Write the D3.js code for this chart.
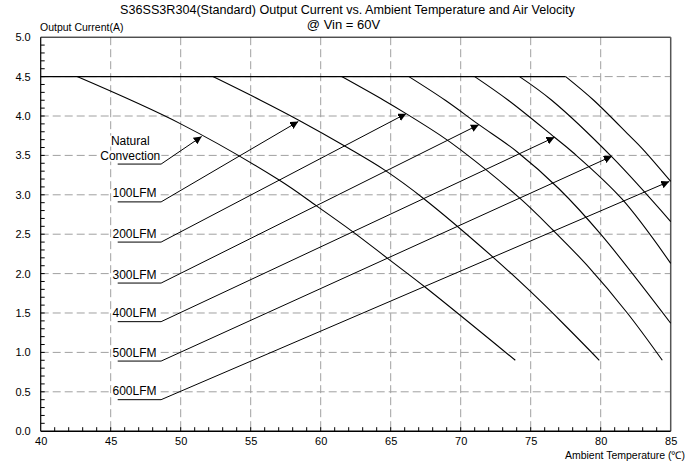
<!DOCTYPE html>
<html>
<head>
<meta charset="utf-8">
<script src="https://cdn.jsdelivr.net/npm/d3@7"></script>
<style>
  body { margin: 0; background: #fff; }
  text { font-family: "Liberation Sans", Arial, sans-serif; fill: #000; }
</style>
</head>
<body>
<svg id="chart" width="689" height="466"></svg>
<script>
// axis ticks
const tempTicks = [40, 45, 50, 55, 60, 65, 70, 75, 80, 85];
const currentTicks = [0, 0.5, 1, 1.5, 2, 2.5, 3, 3.5, 4, 4.5, 5];

// derating curves (first point is where the curve leaves 4.5A)
const seriesNames = ["Natural Convection", "100LFM", "200LFM", "300LFM", "400LFM", "500LFM", "600LFM"];
const ncTemp = [42.6, 50, 57, 59.7, 62.3, 64.8, 67.45, 73.9];
const ncCurrent = [4.5, 3.9, 3.19, 2.86, 2.53, 2.19, 1.83, 0.9];
const lfm100Temp = [52.3, 55.7, 58.5, 61.9, 64.6, 67.3, 72.3, 75, 77.3, 79.9];
const lfm100Current = [4.5, 4.2, 3.94, 3.6, 3.31, 2.96, 2.21, 1.77, 1.37, 0.9];
const lfm200Temp = [61.5, 64.5, 66.1, 68.5, 70, 74.2, 76.6, 79, 81.9, 84.4];
const lfm200Current = [4.5, 4.2, 4.03, 3.76, 3.57, 2.96, 2.55, 2.11, 1.5, 0.9];
const lfm300Temp = [66.3, 68.9, 71.3, 74, 77, 80, 85];
const lfm300Current = [4.5, 4.2, 3.89, 3.55, 3.08, 2.5, 1.37];
const lfm400Temp = [71, 73.4, 76.7, 78, 81.5, 85];
const lfm400Current = [4.5, 4.2, 3.73, 3.54, 2.95, 2.13];
const lfm500Temp = [74.2, 76.5, 80.8, 85];
const lfm500Current = [4.5, 4.2, 3.48, 2.66];
const lfm600Temp = [77.5, 79.5, 82, 83, 85];
const lfm600Current = [4.5, 4.2, 3.76, 3.58, 3.17];

// labels: underline level and where each arrow points on its curve
const labelStart = 45.5, labelEnd = 48.6;
const labelLevels = [3.39, 2.91, 2.40, 1.88, 1.39, 0.89, 0.40];
const arrowTemps = [51.5, 58.4, 66.1, 71.3, 76.7, 80.8, 84.9];
const arrowCurrents = [3.74, 3.93, 4.03, 3.89, 3.73, 3.49, 3.17];

const temps = [ncTemp, lfm100Temp, lfm200Temp, lfm300Temp, lfm400Temp, lfm500Temp, lfm600Temp];
const currents = [ncCurrent, lfm100Current, lfm200Current, lfm300Current, lfm400Current, lfm500Current, lfm600Current];
const series = seriesNames.map((name, i) => ({
  name: name,
  points: temps[i].map((t, j) => [t, currents[i][j]])
}));

const margin = {top: 37.2, left: 40.7};
const width = 630, height = 394;

const svg = d3.select("#chart");

svg.append("defs").append("marker")
  .attr("id", "arrow")
  .attr("viewBox", "0 0 10 10")
  .attr("refX", 10).attr("refY", 5)
  .attr("markerWidth", 8).attr("markerHeight", 8)
  .attr("markerUnits", "userSpaceOnUse")
  .attr("orient", "auto")
  .append("path")
  .attr("d", "M0,0L10,5L0,10z")
  .attr("fill", "#000");

const g = svg.append("g").attr("transform", `translate(${margin.left},${margin.top})`);

const x = d3.scaleLinear().domain([40, 85]).range([0, width]);
const y = d3.scaleLinear().domain([0, 5]).range([height, 0]);

// titles
svg.append("text")
  .attr("x", 347.5).attr("y", 14)
  .attr("text-anchor", "middle")
  .style("font-size", "12.6px")
  .text("S36SS3R304(Standard) Output Current vs. Ambient Temperature and Air Velocity");
svg.append("text")
  .attr("x", 343.5).attr("y", 29)
  .attr("text-anchor", "middle")
  .style("font-size", "13px")
  .text("@ Vin = 60V");
svg.append("text")
  .attr("x", 40).attr("y", 31)
  .style("font-size", "10.5px")
  .text("Output Current(A)");

// grid
const gridColor = "#a0a0a0";
g.append("g").selectAll("line")
  .data(currentTicks.filter(d => d > 0 && d < 5))
  .join("line")
  .attr("x1", 0).attr("x2", width)
  .attr("y1", d => y(d)).attr("y2", d => y(d))
  .attr("stroke", gridColor)
  .attr("stroke-dasharray", "8,4");
g.append("g").selectAll("line")
  .data(tempTicks.filter(d => d > 40 && d < 85))
  .join("line")
  .attr("x1", d => x(d)).attr("x2", d => x(d))
  .attr("y1", 0).attr("y2", height)
  .attr("stroke", gridColor)
  .attr("stroke-dasharray", "8,4");

// axes
const xAxis = d3.axisBottom(x).tickValues(tempTicks).tickSize(0).tickPadding(6).tickFormat(d3.format("d"));
const yAxis = d3.axisLeft(y).tickValues(currentTicks).tickSize(0).tickPadding(10).tickFormat(d3.format(".1f"));

const gx = g.append("g").attr("transform", `translate(0,${height})`).call(xAxis);
const gy = g.append("g").call(yAxis);
[gx, gy].forEach(a => {
  a.select(".domain").remove();
  a.selectAll("text").style("font-size", "11px").attr("fill", "#000");
});

// minor ticks, inward
g.append("g").selectAll("line")
  .data(d3.range(41, 85))
  .join("line")
  .attr("x1", d => x(d)).attr("x2", d => x(d))
  .attr("y1", height).attr("y2", height - 4)
  .attr("stroke", "#000");
g.append("g").selectAll("line")
  .data(d3.range(1, 50).map(d => d / 10))
  .join("line")
  .attr("x1", 0).attr("x2", 4)
  .attr("y1", d => y(d)).attr("y2", d => y(d))
  .attr("stroke", "#000");

// frame
g.append("line").attr("x1", 0).attr("x2", width).attr("y1", 0).attr("y2", 0).attr("stroke", "#000");
g.append("line").attr("x1", width).attr("x2", width).attr("y1", 0).attr("y2", height).attr("stroke", "#555").attr("stroke-width", 1.5);
g.append("line").attr("x1", 0).attr("x2", 0).attr("y1", 0).attr("y2", height).attr("stroke", "#000").attr("stroke-width", 1.2);
g.append("line").attr("x1", 0).attr("x2", width).attr("y1", height).attr("y2", height).attr("stroke", "#000").attr("stroke-width", 1.5);

svg.append("text")
  .attr("x", 685).attr("y", 459)
  .attr("text-anchor", "end")
  .style("font-size", "10.5px")
  .text("Ambient Temperature (℃)");

// curves
const flatEnd = d3.max(series, s => s.points[0][0]);
g.append("line")
  .attr("x1", x(40)).attr("x2", x(flatEnd))
  .attr("y1", y(4.5)).attr("y2", y(4.5))
  .attr("stroke", "#000").attr("stroke-width", 1.2);

const line = d3.line()
  .x(d => x(d[0]))
  .y(d => y(d[1]))
  .curve(d3.curveCatmullRom.alpha(0.5));

g.append("g").selectAll("path")
  .data(series)
  .join("path")
  .attr("d", d => line(d.points))
  .attr("fill", "none")
  .attr("stroke", "#000")
  .attr("stroke-width", 1.1);

// labels with leader arrows
const labels = g.append("g");
seriesNames.forEach((name, i) => {
  const lv = labelLevels[i];
  labels.append("path")
    .attr("d", d3.line()([
      [x(labelStart), y(lv)],
      [x(labelEnd), y(lv)],
      [x(arrowTemps[i]), y(arrowCurrents[i])]
    ]))
    .attr("fill", "none")
    .attr("stroke", "#000")
    .attr("stroke-width", 1)
    .attr("marker-end", "url(#arrow)");

  const lines = i === 0 ? ["Natural", "Convection"] : [name];
  const cx = i === 0 ? x(46.4) : x(46.7);
  lines.forEach((txt, k) => {
    const base = y(lv) - 4.5 - (lines.length - 1 - k) * 15;
    const t = labels.append("text")
      .attr("x", cx).attr("y", base)
      .attr("text-anchor", "middle")
      .style("font-size", "12px")
      .text(txt);
    const bb = t.node().getBBox();
    labels.insert("rect", "text")
      .attr("x", bb.x - 1).attr("y", bb.y + 2)
      .attr("width", bb.width + 2).attr("height", bb.height - 3)
      .attr("fill", "#fff");
  });
});
</script>
</body>
</html>
